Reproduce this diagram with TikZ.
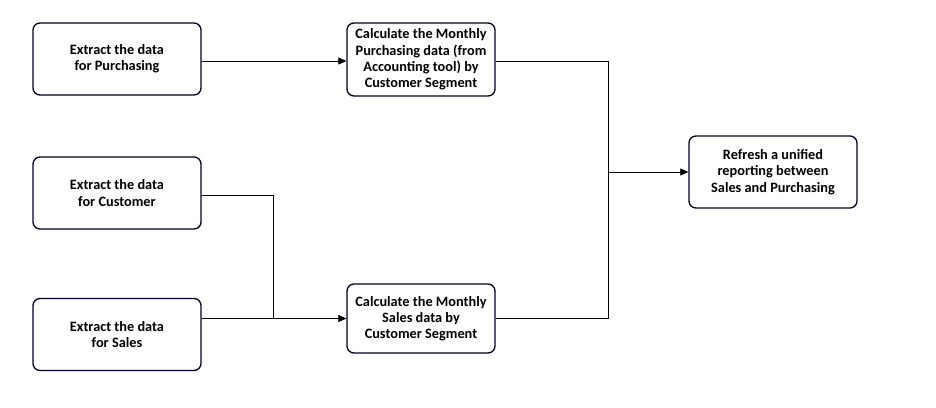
\documentclass[tikz,border=0pt]{standalone}
\usepackage{fontspec}
\setmainfont{Carlito}
\usetikzlibrary{arrows.meta}
\begin{document}
\begin{tikzpicture}[x=1pt,y=-1pt,
  box/.style={draw=black!85!blue,line width=1.3pt,rounded corners=7pt,align=center,
    font=\fontsize{14.3}{16.3}\selectfont\bfseries,inner sep=0pt},
  conn/.style={line width=0.7pt},
  arr/.style={conn,-{Triangle[length=8pt,width=7pt]}}]
\useasboundingbox (0,0) rectangle (936,407);
\node[box,minimum width=168pt,minimum height=72pt] (a) at (117,59) {Extract the data\\for Purchasing};
\node[box,minimum width=168pt,minimum height=72pt] (b) at (117,193) {Extract the data\\for Customer};
\node[box,minimum width=168pt,minimum height=72pt] (c) at (117,334.5) {Extract the data\\for Sales};
\node[box,minimum width=148pt,minimum height=73pt] (d) at (421,59.5) {Calculate the Monthly\\Purchasing data (from\\Accounting tool) by\\Customer Segment};
\node[box,minimum width=148pt,minimum height=69pt] (e) at (421,318.5) {Calculate the Monthly\\Sales data by\\Customer Segment};
\node[box,minimum width=168pt,minimum height=72pt] (f) at (773,172) {Refresh a unified\\reporting between\\Sales and Purchasing};
\coordinate (j1) at (608,172);
\coordinate (j2) at (273,318.5);
\draw[arr] (a.east |- 0,61) -- (d.west |- 0,61);
\draw[conn] (d.east |- 0,61) -| (j1);
\draw[conn] (e.east) -| (j1);
\draw[arr] (j1) -- (f.west);
\draw[conn] (b.east |- 0,195) -| (j2);
\draw[conn] (c.east |- j2) -- (j2);
\draw[arr] (j2) -- (e.west);
\end{tikzpicture}
\end{document}
